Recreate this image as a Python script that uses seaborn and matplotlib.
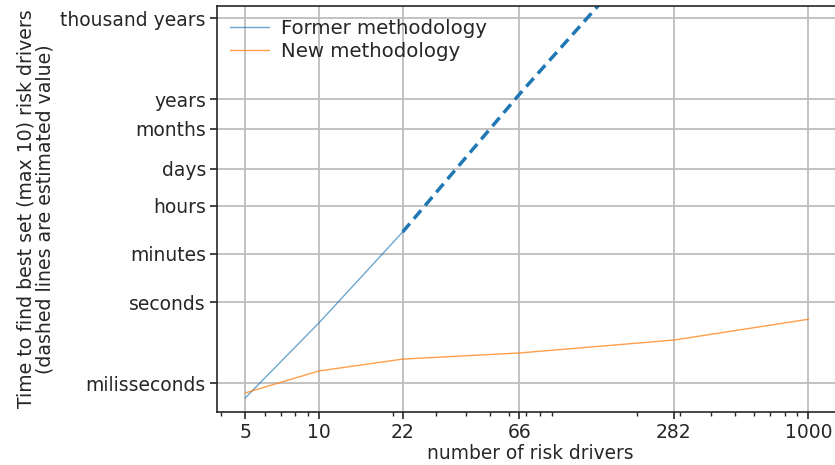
"""
Search time of best risk driver set: former vs new methodology
"""

import numpy as np
import pandas as pd
import matplotlib
matplotlib.use("Agg")
import matplotlib.pyplot as plt
import matplotlib.ticker as mticker
import seaborn as sns

# Data (seconds)
drivers = [5, 10, 22, 66, 282, 1000]
former_drivers = [5, 10, 22]
former_secs = [2.8e-4, 0.167, 390]
former_est_drivers = [22, 66, 282]
former_est_secs = [390, 4.9e7, 1.3e14]
new_secs = [4.3e-4, 2.8e-3, 7.7e-3, 0.013, 0.039, 0.23]

time_labels = ["milisseconds", "seconds", "minutes", "hours", "days",
               "months", "years", "thousand years"]
time_values = [1e-3, 1, 60, 3600, 86400, 2.592e6, 3.1536e7, 3.1536e10]

sns.set_style("ticks")
plt.rcParams['font.family'] = ['DejaVu Sans']

fig = plt.figure(figsize=(8.35, 4.65), dpi=100)
# right edge pushed just past the figure so the right spine is cut off
ax = fig.add_axes([0.26, 0.114, 0.75, 0.873])

blue = "#1f77b4"
orange = "#ff7f0e"
ink = "#262626"

df_former = pd.DataFrame({"x": former_drivers, "y": former_secs})
df_est = pd.DataFrame({"x": former_est_drivers, "y": former_est_secs})
df_new = pd.DataFrame({"x": drivers, "y": new_secs})

sns.lineplot(data=df_former, x="x", y="y", ax=ax, color=blue, lw=1,
             alpha=0.65, label="Former methodology")
sns.lineplot(data=df_new, x="x", y="y", ax=ax, color=orange, lw=1,
             alpha=0.75, label="New methodology")
sns.lineplot(data=df_est, x="x", y="y", ax=ax, color=blue, lw=2.5,
             dashes=False, legend=False, linestyle=(0, (3.2, 1.8)))

ax.set_xscale("log")
ax.set_yscale("log")
ax.set_xlim(3.84, 1390)
ax.set_ylim(8.5e-5, 9e10)

ax.xaxis.set_major_locator(mticker.FixedLocator(drivers))
ax.xaxis.set_major_formatter(mticker.FixedFormatter([str(d) for d in drivers]))
ax.xaxis.set_minor_locator(mticker.LogLocator(base=10, subs=np.arange(2, 10)))
ax.xaxis.set_minor_formatter(mticker.NullFormatter())

ax.yaxis.set_major_locator(mticker.FixedLocator(time_values))
ax.yaxis.set_major_formatter(mticker.FixedFormatter(time_labels))
ax.yaxis.set_minor_locator(mticker.NullLocator())

ax.grid(True, which="major", color="#bdbdbd", lw=1.3)
ax.tick_params(axis="both", which="major", labelsize=13.5, length=5,
               width=1.2, colors=ink, labelcolor=ink, pad=3)
ax.tick_params(axis="x", which="minor", length=3, width=1, colors=ink)
for s in ax.spines.values():
    s.set_visible(True)
    s.set_linewidth(1.2)
    s.set_color(ink)

ax.set_xlabel("number of risk drivers", fontsize=13.4, color=ink, labelpad=1.5)
ax.set_ylabel("Time to find best set (max 10) risk drivers\n(dashed lines are estimated value)",
              fontsize=13.6, color=ink, labelpad=4, linespacing=1.0)

ax.legend(loc="upper left", frameon=False, fontsize=14.2, handlelength=2.0,
          borderaxespad=0.25, labelspacing=0.2, handletextpad=0.6)

fig.savefig("out.png", dpi=100)
